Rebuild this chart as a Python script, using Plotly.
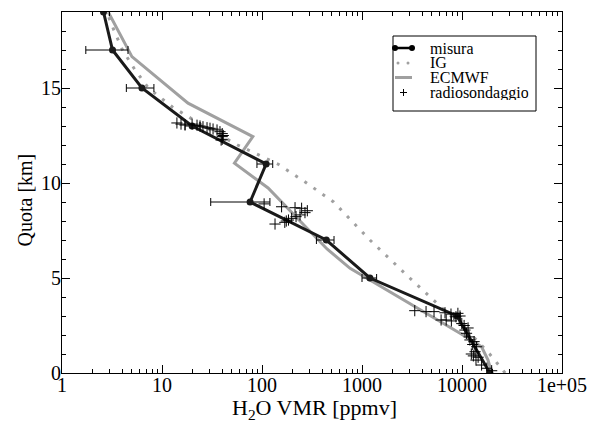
import plotly.graph_objects as go

# ---------------- data ----------------
misura_alt = [19, 17, 15, 13, 11, 9, 7, 5, 3, 0]
misura_vmr = [2.6, 3.2, 6.3, 20, 110, 76, 440, 1200, 8900, 19000]

err_alt = [17, 15, 13, 11, 9, 7, 5, 3]
err_vmr = [3.2, 6.3, 20, 110, 76, 440, 1200, 8900]
err_lo = [1.73, 4.4, 17, 89, 30.7, 350, 1000, 8300]
err_hi = [4.57, 8.3, 24, 128, 120, 525, 1400, 9600]

ig_alt = [0, 1, 2, 3, 4, 5, 6, 7, 8, 9, 10, 11, 12, 13, 14, 15, 16, 17, 18, 19]
ig_vmr = [27000, 18900, 12500, 7700, 4800, 3000, 1900, 1200, 790, 520,
          279, 144, 57, 26, 12.7, 7.3, 5.3, 4.03, 3.33, 2.8]

ecmwf_alt = [19, 16.65, 14.2, 12.44, 11.04, 9.74, 6.53, 5.51, 2.09, 1.38, 0.68, 0]
ecmwf_vmr = [2.9, 5.0, 18.2, 81, 53, 115, 447, 760, 9550, 15700, 18200, 19800]

rs_alt = [13.16, 13.1, 13.05, 13.1, 13.04, 13.0, 12.96, 12.91, 12.88, 12.84, 12.79,
          12.7, 12.6, 12.5, 12.44, 12.3, 12.26,
          8.9, 8.75, 7.84, 8.7, 8.67, 8.54, 8.44, 8.32, 8.23, 8.14, 8.05, 7.93, 8.0,
          3.28, 3.23, 3.23, 3.17, 3.1, 3.14, 2.79, 2.79, 2.74, 2.96, 3.0, 2.6, 2.5,
          2.37, 2.26, 2.09, 1.9, 1.74, 1.65, 1.5, 1.38, 1.12, 1.0, 0.9, 0.83, 0.68,
          0.42, 0.25, 0.12]
rs_vmr = [14.1, 15.5, 17, 20, 22.4, 24, 25.7, 28.2, 30.2, 32.4, 35.5,
          38, 40, 41, 40, 40, 39,
          105, 157, 135, 214, 249, 284, 269, 240, 219, 198, 184, 169, 175,
          3370, 4370, 5250, 6760, 7760, 9100, 6180, 6950, 7830, 8700, 9550, 9950, 10500,
          11500, 10700, 11100, 11800, 12000, 13200, 12800, 14000, 13500, 12400, 13000, 14500, 13800,
          15700, 17700, 19800]

x_tickvals = [1, 10, 100, 1000, 10000, 100000]
x_ticktext = ["1", "10", "100", "1000", "10000", "1e+05"]
x_minor = [m * d for d in [1, 10, 100, 1000, 10000] for m in range(2, 10)]

legend_names = ["misura", "IG", "ECMWF", "radiosondaggio"]
x_title = "H<sub>2</sub>O VMR [ppmv]"
y_title = "Quota [km]"

GREY = "#a0a0a0"
FONT = "'Liberation Serif', 'Times New Roman', Times, 'DejaVu Serif', serif"

fig = go.Figure()

fig.add_trace(go.Scatter(x=ecmwf_vmr, y=ecmwf_alt, mode="lines",
                         line=dict(color=GREY, width=3), showlegend=False))
fig.add_trace(go.Scatter(x=ig_vmr, y=ig_alt, mode="lines",
                         line=dict(color=GREY, width=3, dash="3px,8px"), showlegend=False))
fig.add_trace(go.Scatter(
    x=err_vmr, y=err_alt, mode="markers",
    marker=dict(size=1, color="rgba(0,0,0,0)"),
    error_x=dict(type="data", symmetric=False,
                 array=[h - v for h, v in zip(err_hi, err_vmr)],
                 arrayminus=[v - l for l, v in zip(err_lo, err_vmr)],
                 color="black", thickness=1, width=4),
    showlegend=False))
fig.add_trace(go.Scatter(x=misura_vmr, y=misura_alt, mode="lines+markers",
                         line=dict(color="#1a1a1a", width=3),
                         marker=dict(color="#1a1a1a", size=7), showlegend=False))
fig.add_trace(go.Scatter(x=rs_vmr, y=rs_alt, mode="markers",
                         marker=dict(symbol="cross-thin", size=8,
                                     line=dict(color="black", width=1)),
                         showlegend=False))

# ---------------- manual legend (page px -> paper) ----------------
def px(xp):
    return (xp - 62) / 500.0

def py(yp):
    return (373 - yp) / 361.0

shapes = [dict(type="rect", xref="paper", yref="paper",
               x0=px(393), x1=px(536), y0=py(111), y1=py(36),
               line=dict(color="black", width=1), fillcolor="white", layer="above")]
rows = [48, 63, 77.5, 92.5]
shapes.append(dict(type="line", xref="paper", yref="paper", x0=px(395), x1=px(412),
                   y0=py(rows[0]), y1=py(rows[0]), line=dict(color="black", width=2.5), layer="above"))
for xx in (395, 412):
    shapes.append(dict(type="circle", xref="paper", yref="paper", xsizemode="pixel", ysizemode="pixel",
                       xanchor=px(xx), yanchor=py(rows[0]), x0=-3, x1=3, y0=-3, y1=3,
                       fillcolor="black", line=dict(color="black", width=0), layer="above"))
for xx in (398, 408):
    shapes.append(dict(type="circle", xref="paper", yref="paper", xsizemode="pixel", ysizemode="pixel",
                       xanchor=px(xx), yanchor=py(rows[1]), x0=-1.5, x1=1.5, y0=-1.5, y1=1.5,
                       fillcolor=GREY, line=dict(color=GREY, width=0), layer="above"))
shapes.append(dict(type="line", xref="paper", yref="paper", x0=px(395), x1=px(412),
                   y0=py(rows[2]), y1=py(rows[2]), line=dict(color=GREY, width=3), layer="above"))
shapes.append(dict(type="line", xref="paper", yref="paper", x0=px(400), x1=px(407),
                   y0=py(rows[3]), y1=py(rows[3]), line=dict(color="black", width=1), layer="above"))
shapes.append(dict(type="line", xref="paper", yref="paper", x0=px(403.5), x1=px(403.5),
                   y0=py(rows[3] - 3.5), y1=py(rows[3] + 3.5), line=dict(color="black", width=1), layer="above"))

annotations = []
for name, r in zip(legend_names, rows):
    annotations.append(dict(text=name, xref="paper", yref="paper", x=px(429), y=py(r),
                            xanchor="left", yanchor="middle", showarrow=False,
                            height=15, borderpad=0, valign="middle",
                            font=dict(family=FONT, size=16, color="black")))
annotations.append(dict(text=x_title, xref="paper", yref="paper", x=px(314), y=py(409),
                        xanchor="center", yanchor="middle", showarrow=False,
                        font=dict(family=FONT, size=22, color="black")))
annotations.append(dict(text=y_title, xref="paper", yref="paper", x=px(24.5), y=py(200),
                        xanchor="center", yanchor="middle", showarrow=False, textangle=-90,
                        font=dict(family=FONT, size=20, color="black")))

axis_common = dict(showline=True, linecolor="black", linewidth=1, mirror="ticks",
                   ticks="inside", ticklen=8, tickwidth=1, tickcolor="black",
                   showgrid=False, zeroline=False, automargin=False,
                   tickfont=dict(family=FONT, size=20, color="black"))

# page has an 8px body margin: figure is 590x413 so plot area lands at page px 62..562 / 12..373
fig.update_layout(
    width=590, height=413,
    margin=dict(l=54, r=36, t=4, b=48),
    paper_bgcolor="white", plot_bgcolor="white",
    font=dict(family=FONT, size=20, color="black"),
    shapes=shapes, annotations=annotations,
    xaxis=dict(type="log", range=[0, 5], tickmode="array",
               tickvals=x_tickvals, ticktext=x_ticktext, ticklabelstandoff=-6,
               minor=dict(tickmode="array", tickvals=x_minor, ticks="inside",
                          ticklen=4, tickcolor="black", showgrid=False),
               **axis_common),
    yaxis=dict(range=[0, 19], tickmode="linear", tick0=0, dtick=5, ticklabelstandoff=-4,
               minor=dict(dtick=1, ticks="inside", ticklen=4, tickcolor="black", showgrid=False),
               **axis_common),
)

fig.write_html("out.html")
